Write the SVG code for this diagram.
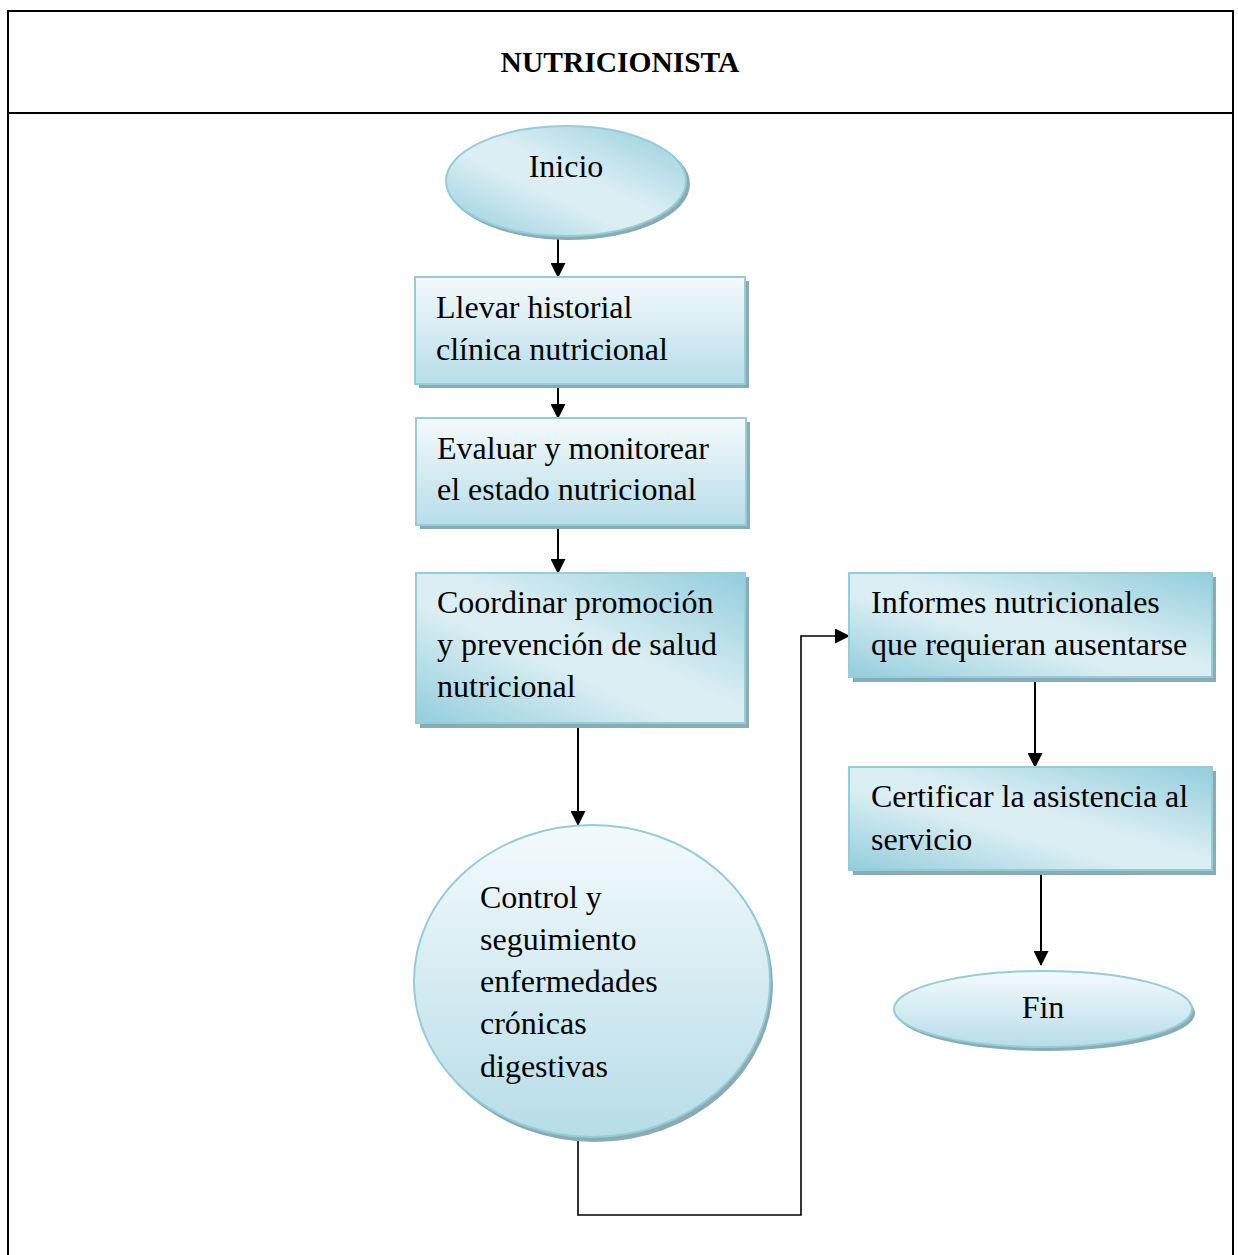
<svg xmlns="http://www.w3.org/2000/svg" width="1238" height="1255" viewBox="0 0 1238 1255">
<style>
.t{font-family:"Liberation Serif","Times New Roman",serif;font-size:32px;fill:#000}
.title{font-family:"Liberation Serif","Times New Roman",serif;font-size:29.5px;font-weight:bold;fill:#000}
.shp{stroke:#92cddc;stroke-width:2}
.sh{fill:#8fa9b1}
.con{fill:none;stroke:#000;stroke-width:2}
</style>
<defs>
<linearGradient id="gv" x1="0" y1="0" x2="0" y2="1">
<stop offset="0" stop-color="#f4fafc"/><stop offset="1" stop-color="#b7dde8"/>
</linearGradient>
<linearGradient id="gd" x1="1" y1="0" x2="0" y2="1">
<stop offset="0" stop-color="#93cddc"/><stop offset="0.45" stop-color="#daeef3"/><stop offset="0.6" stop-color="#daeef3"/><stop offset="1" stop-color="#93cddc"/>
</linearGradient>
<marker id="ah" markerWidth="15" markerHeight="15" refX="14" refY="7.5" orient="auto" markerUnits="userSpaceOnUse" viewBox="0 0 15 15">
<path d="M0,0 L15,7.5 L0,15 z" fill="#000"/>
</marker>
</defs>
<rect width="1238" height="1255" fill="#fff"/>
<g id="frame" fill="none" stroke="#000" stroke-width="2">
<path d="M8,1255 V11 H1233 V1255"/>
<line x1="8" y1="113" x2="1233" y2="113"/>
</g>
<text class="title" x="620" y="72" text-anchor="middle">NUTRICIONISTA</text>

<g id="connectors">
<line class="con" x1="558" y1="238" x2="558" y2="277" marker-end="url(#ah)"/>
<line class="con" x1="558" y1="386" x2="558" y2="418" marker-end="url(#ah)"/>
<line class="con" x1="558" y1="527" x2="558" y2="573" marker-end="url(#ah)"/>
<line class="con" x1="578" y1="725" x2="578" y2="825" marker-end="url(#ah)"/>
<path class="con" d="M578,1140 V1215 H801 V636 H849" style="stroke-width:1.6" marker-end="url(#ah)"/>
<line class="con" x1="1035" y1="680" x2="1035" y2="767" marker-end="url(#ah)"/>
<line class="con" x1="1041" y1="872" x2="1041" y2="965" marker-end="url(#ah)"/>
</g>

<g id="inicio">
<ellipse class="sh" cx="569" cy="184" rx="121" ry="56"/>
<ellipse class="shp" cx="566" cy="181" rx="120" ry="55" fill="url(#gd)"/>
<text class="t" x="566" y="177" text-anchor="middle">Inicio</text>
</g>

<g id="n1">
<rect class="sh" x="419" y="281" width="330" height="107"/>
<rect class="shp" x="415" y="277" width="330" height="107" fill="url(#gv)"/>
<text class="t" x="436" y="318">Llevar historial</text>
<text class="t" x="436" y="360">clínica nutricional</text>
</g>

<g id="n2">
<rect class="sh" x="420" y="422" width="330" height="107"/>
<rect class="shp" x="416" y="418" width="330" height="107" fill="url(#gv)"/>
<text class="t" x="437" y="459">Evaluar y monitorear</text>
<text class="t" x="437" y="500">el estado nutricional</text>
</g>

<g id="n3">
<rect class="sh" x="420" y="577" width="329" height="151"/>
<rect class="shp" x="416" y="573" width="329" height="150" fill="url(#gd)"/>
<text class="t" x="437" y="613">Coordinar promoción</text>
<text class="t" x="437" y="655">y prevención de salud</text>
<text class="t" x="437" y="697">nutricional</text>
</g>

<g id="n4">
<ellipse class="sh" cx="595" cy="985" rx="178" ry="157"/>
<ellipse class="shp" cx="592" cy="981" rx="178" ry="156" fill="url(#gv)"/>
<text class="t" x="480" y="908">Control y</text>
<text class="t" x="480" y="950">seguimiento</text>
<text class="t" x="480" y="992">enfermedades</text>
<text class="t" x="480" y="1034">crónicas</text>
<text class="t" x="480" y="1077">digestivas</text>
</g>

<g id="n5">
<rect class="sh" x="853" y="577" width="363" height="105"/>
<rect class="shp" x="849" y="573" width="363" height="104" fill="url(#gd)"/>
<text class="t" x="871" y="613">Informes nutricionales</text>
<text class="t" x="871" y="655">que requieran ausentarse</text>
</g>

<g id="n6">
<rect class="sh" x="853" y="771" width="363" height="104"/>
<rect class="shp" x="849" y="767" width="363" height="103" fill="url(#gd)"/>
<text class="t" x="871" y="807">Certificar la asistencia al</text>
<text class="t" x="871" y="850">servicio</text>
</g>

<g id="fin">
<ellipse class="sh" cx="1046" cy="1013" rx="149" ry="38"/>
<ellipse class="shp" cx="1043" cy="1009" rx="149" ry="38" fill="url(#gv)"/>
<text class="t" x="1043" y="1018" text-anchor="middle">Fin</text>
</g>
</svg>
